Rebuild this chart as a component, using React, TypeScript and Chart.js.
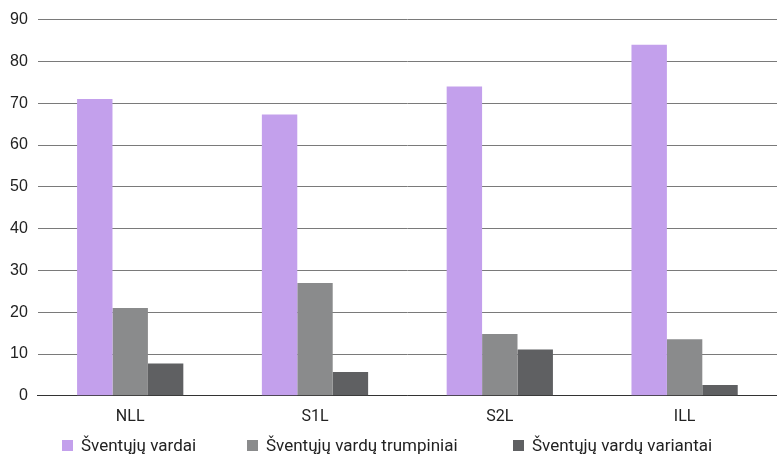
import React, { useEffect, useRef } from "react";
import { Chart, registerables } from "chart.js";

Chart.register(...registerables);

const categories = ["NLL", "S1L", "S2L", "ILL"];
const seriesNames = [
  "Šventųjų vardai",
  "Šventųjų vardų trumpiniai",
  "Šventųjų vardų variantai",
];
const vardai = [71, 67.3, 74, 84];
const trumpiniai = [21, 27, 14.8, 13.5];
const variantai = [7.7, 5.7, 11.1, 2.6];
const colors = ["#C3A0EC", "#8A8B8C", "#5F6062"];

// left edge of each legend item (box), in px
const legendX = [62, 247, 513];

export default function App() {
  const canvasRef = useRef<HTMLCanvasElement | null>(null);

  useEffect(() => {
    document.body.style.margin = "0";
    const canvas = canvasRef.current;
    if (!canvas) return;
    const values = [vardai, trumpiniai, variantai];
    const chart = new Chart(canvas, {
      type: "bar",
      data: {
        labels: categories,
        datasets: seriesNames.map((name, i) => ({
          label: name,
          data: values[i],
          backgroundColor: colors[i],
          borderWidth: 0,
          barPercentage: 1,
          categoryPercentage: 0.575,
        })),
      },
      options: {
        animation: false,
        responsive: false,
        maintainAspectRatio: false,
        layout: { padding: { top: 7, right: 0, left: 0, bottom: 23 } },
        scales: {
          x: {
            grid: { display: false },
            border: { display: true, color: "#333", width: 1 },
            ticks: {
              color: "#222",
              font: { family: "Roboto, sans-serif", size: 16 },
              padding: 4,
            },
          },
          y: {
            min: 0,
            max: 90,
            ticks: {
              stepSize: 10,
              color: "#222",
              font: { family: "'Liberation Sans', Arial, sans-serif", size: 16 },
              padding: 10,
            },
            grid: { color: "#7a7a7a", lineWidth: 1, drawTicks: false },
            border: { display: false },
          },
        },
        plugins: {
          legend: { display: false },
          tooltip: { enabled: false },
        },
      },
    });
    return () => chart.destroy();
  }, []);

  return (
    <div style={{ position: "relative", width: 777, height: 454 }}>
      <canvas ref={canvasRef} width={777} height={454} style={{ display: "block" }} />
      {seriesNames.map((name, i) => (
        <div
          key={name}
          style={{
            position: "absolute",
            left: legendX[i],
            top: 435,
            display: "flex",
            alignItems: "center",
            fontFamily: "Roboto, sans-serif",
            fontSize: 17,
            color: "#222",
            whiteSpace: "nowrap",
            lineHeight: "20px",
          }}
        >
          <span
            style={{
              display: "inline-block",
              width: 11,
              height: 11,
              background: colors[i],
              marginRight: 8,
            }}
          />
          {name}
        </div>
      ))}
    </div>
  );
}
